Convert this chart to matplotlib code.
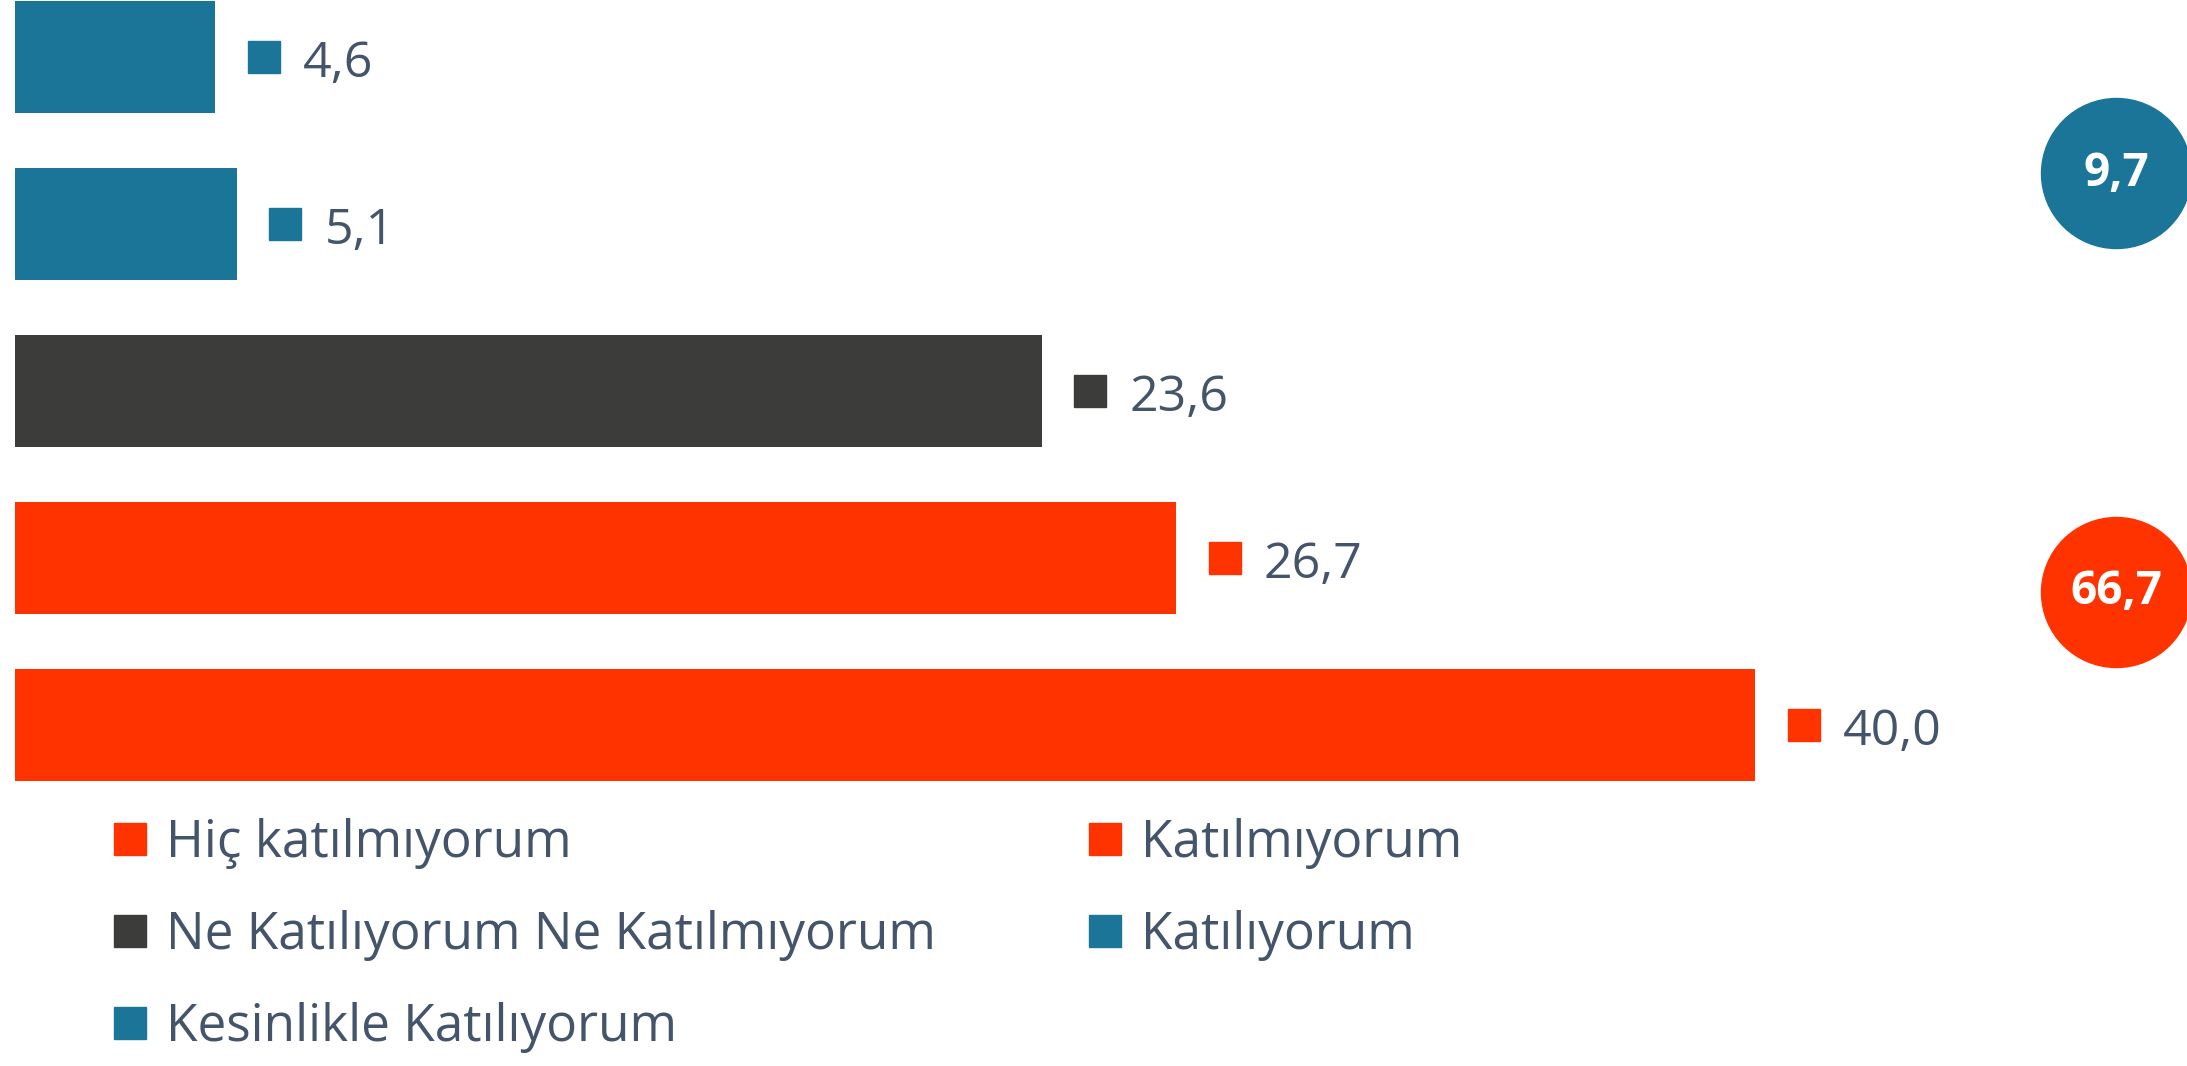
import matplotlib.pyplot as plt
from matplotlib.lines import Line2D
import matplotlib.transforms as mtransforms

# data (top to bottom)
categories = ["Kesinlikle Katılıyorum", "Katılıyorum", "Ne Katılıyorum Ne Katılmıyorum",
              "Katılmıyorum", "Hiç katılmıyorum"]
values = [4.6, 5.1, 23.6, 26.7, 40.0]
colors = ["#1A7598", "#1A7598", "#3C3C3B", "#FF3300", "#FF3300"]

text_col = "#44546A"
plt.rcParams['font.family'] = ['Open Sans', 'DejaVu Sans']

fig = plt.figure(figsize=(21.87, 10.66), dpi=100)
ax = fig.add_axes([0, 0, 1, 1])
ax.set_xlim(-0.345, 49.93)
ax.set_ylim(6.04, -0.341)
ax.axis('off')

ypos = list(range(len(values)))
ax.barh(ypos, values, height=0.67, color=colors)

# value labels: small square + number
sq = mtransforms.offset_copy(ax.transData, fig=fig, x=35, y=0, units='points')
for i, v in enumerate(values):
    ax.plot(v, i, marker='s', markersize=23, color=colors[i], transform=sq, clip_on=False)
    ax.annotate(f"{v:.1f}".replace('.', ','), (v, i), xytext=(63, -5), textcoords='offset points',
                va='center', ha='left', fontsize=36, color=text_col)

# summary circles
agree = values[0] + values[1]
disagree = values[3] + values[4]
for val, col, yy in [(agree, "#1A7598", 0.695), (disagree, "#FF3300", 3.2)]:
    ax.scatter([48.3], [yy], s=108**2, color=col, clip_on=False, zorder=3)
    ax.text(48.3, yy, f"{val:.1f}".replace('.', ','), ha='center', va='center',
            fontsize=33, fontweight='bold', color='white', zorder=4)

# legend
order = [4, 2, 0, 3, 1]
handles = [Line2D([], [], marker='s', linestyle='', markersize=23, color=colors[k]) for k in order]
labels = [categories[k] for k in order]
fig.legend(handles, labels, loc='upper left', bbox_to_anchor=(0.043, 0.252), ncol=2,
           frameon=False, fontsize=37, labelcolor=text_col, handlelength=0.6,
           handletextpad=0.4, columnspacing=3.0, labelspacing=0.8, borderaxespad=0)

fig.savefig("out.png", dpi=100)
